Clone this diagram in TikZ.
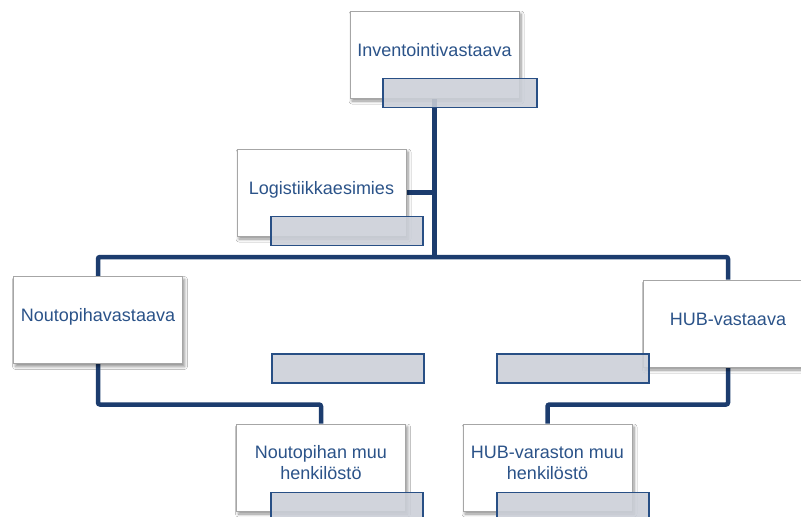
\documentclass[tikz,border=0pt]{standalone}
\usepackage{fontspec}
\setmainfont{Liberation Sans}
\usetikzlibrary{shadows.blur,backgrounds}
\definecolor{linkblue}{HTML}{1C3C6E}
\definecolor{textblue}{HTML}{2B5389}
\definecolor{tabgrey}{HTML}{CBCFD8}
\definecolor{tabedge}{HTML}{284F85}
\tikzset{
  rolebox/.style={draw=black!35, line width=1pt, fill=white, minimum width=169pt, minimum height=87pt,
    inner sep=0pt, text=textblue, align=center, font=\fontsize{18}{21}\selectfont,
    text height=13pt, text depth=10pt,
    blur shadow={shadow xshift=2pt, shadow yshift=-3pt, shadow blur steps=6, shadow blur radius=3pt, shadow opacity=45}},
  twoline/.style={text height=30pt, text depth=6pt},
  tab/.style={draw=tabedge, line width=1.5pt, fill=tabgrey, fill opacity=0.88, minimum width=152pt, minimum height=29pt, inner sep=0pt},
  link/.style={draw=linkblue, line width=4.5pt, rounded corners=2pt}
}
\begin{document}
\begin{tikzpicture}[x=1pt, y=-1pt]
  \useasboundingbox (0,0) rectangle (801,517);

  \node (inv) at (434.5, 54.5) [rolebox] {Inventointivastaava};
  \node (g1) at (460, 93) [tab, minimum width=154pt] {};
  \node (log) at (321.5, 192.5) [rolebox] {Logistiikkaesimies};
  \node (g2) at (347, 231) [tab] {};
  \node (nou) at (98, 320) [rolebox] {Noutopihavastaava};
  \node (g3) at (348, 368.5) [tab] {};
  \node (hub) at (728, 323.5) [rolebox] {HUB-vastaava};
  \node (g4) at (573, 368.5) [tab] {};
  \node (npm) at (321, 467.5) [rolebox, twoline] {Noutopihan muu\\henkilöstö};
  \node (g5) at (347, 507) [tab] {};
  \node (hvm) at (547.5, 467.5) [rolebox, twoline] {HUB-varaston muu\\henkilöstö};
  \node (g6) at (573, 507) [tab] {};

  \coordinate (split) at (434.5, 257);
  \coordinate (lowbar) at (0, 404.5);

  \begin{pgfonlayer}{background}
    \fill[white] (0,0) rectangle (801,517);
    \draw[link] (inv.south) -- (split);
    \draw[link] (log.east) -- (log.east -| split);
    \draw[link] (nou.north) -- (nou.north |- split) -- (hub.north |- split) -- (hub.north);
    \draw[link] (nou.south) -- (nou.south |- lowbar) -- (npm.north |- lowbar) -- (npm.north);
    \draw[link] (hub.south) -- (hub.south |- lowbar) -- (hvm.north |- lowbar) -- (hvm.north);
  \end{pgfonlayer}
\end{tikzpicture}
\end{document}
